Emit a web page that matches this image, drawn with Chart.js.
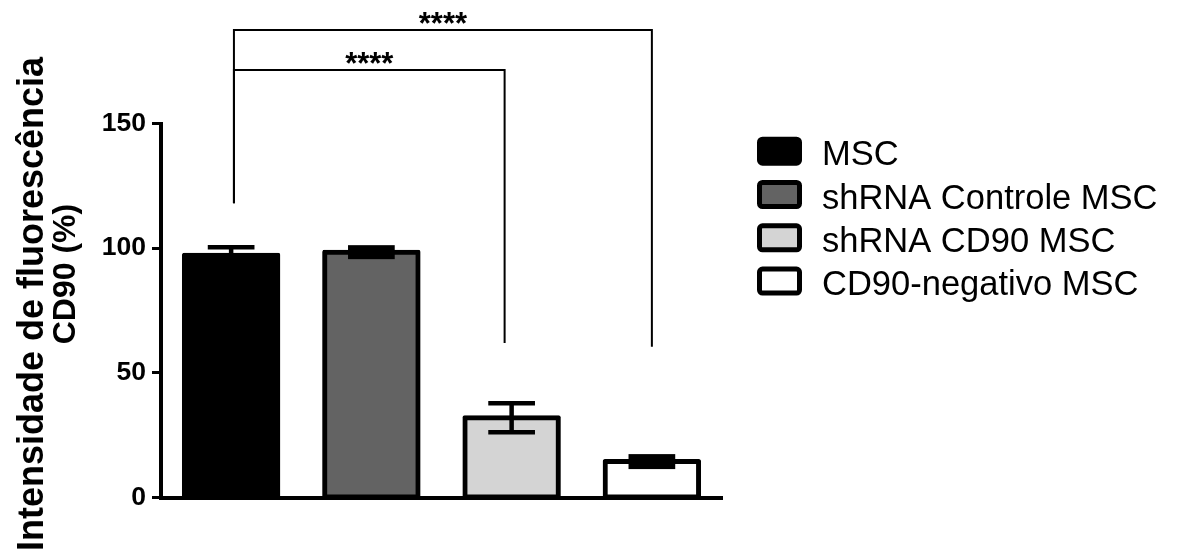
<!DOCTYPE html>
<html>
<head>
<meta charset="utf-8">
<title>Intensidade de fluorescência CD90</title>
<script src="https://cdn.jsdelivr.net/npm/chart.js@4.4.1/dist/chart.umd.min.js"></script>
<style>
  html, body { margin: 0; padding: 0; background: #ffffff; }
  #wrap { width: 1177px; height: 555px; }
</style>
</head>
<body>
<div id="wrap"><canvas id="chart" width="1177" height="555"></canvas></div>
<script>
// Groups, means and SEM of CD90 fluorescence intensity (%)
const groups = ['MSC', 'shRNA Controle MSC', 'shRNA CD90 MSC', 'CD90-negativo MSC'];
const means = [97.2, 98.4, 32.0, 14.4];
const sem = [3.2, 1.9, 5.8, 2.1];
const fills = ['#000000', '#636363', '#d4d4d4', '#ffffff'];
const yTicks = [0, 50, 100, 150];
const axisTitle = ['Intensidade de fluorescência', 'CD90 (%)'];

// Significance comparisons between groups (indices into groups)
const comparisonPairs = [[0, 2], [0, 3]];
const comparisonLabels = ['****', '****'];

const FONT = '"Liberation Sans", Arial, Helvetica, sans-serif';
Chart.defaults.font.family = FONT;
Chart.defaults.color = '#000';

// Bracket geometry in axis units: height of the bar and the ends of the legs
const bracketStyle = [
  { fromShift: 0.02, toShift: -0.05, level: 171.5, leftLeg: 118, rightLeg: 62 },
  { fromShift: 0.02, toShift: 0.0, level: 187.5, leftLeg: 118, rightLeg: 60.5 }
];

// SEM whiskers; caps that nearly touch are drawn as one solid block
const errorBars = {
  id: 'errorBars',
  afterDatasetsDraw(chart) {
    const { ctx } = chart;
    const ys = chart.scales.y;
    const meta = chart.getDatasetMeta(0);
    const capWidth = 4.5;
    ctx.save();
    ctx.strokeStyle = '#000';
    ctx.fillStyle = '#000';
    ctx.lineWidth = capWidth;
    ctx.lineCap = 'butt';
    meta.data.forEach((bar, i) => {
      const x = bar.x;
      const hi = ys.getPixelForValue(means[i] + sem[i]);
      const lo = ys.getPixelForValue(means[i] - sem[i]);
      const half = bar.width * 0.25;
      if (lo - hi < 3 * capWidth) {
        ctx.fillRect(x - half, hi - capWidth / 2, 2 * half, lo - hi + capWidth);
        return;
      }
      ctx.beginPath();
      ctx.moveTo(x, hi); ctx.lineTo(x, lo);
      ctx.moveTo(x - half, hi); ctx.lineTo(x + half, hi);
      ctx.moveTo(x - half, lo); ctx.lineTo(x + half, lo);
      ctx.stroke();
    });
    ctx.restore();
  }
};

const brackets = {
  id: 'brackets',
  afterDraw(chart) {
    const { ctx } = chart;
    const xs = chart.scales.x, ys = chart.scales.y;
    ctx.save();
    ctx.strokeStyle = '#000';
    ctx.lineWidth = 2;
    comparisonPairs.forEach(([a, b], k) => {
      const st = bracketStyle[k];
      const xa = xs.getPixelForValue(a + st.fromShift);
      const xb = xs.getPixelForValue(b + st.toShift);
      const yTop = ys.getPixelForValue(st.level);
      ctx.beginPath();
      ctx.moveTo(xa, ys.getPixelForValue(st.leftLeg));
      ctx.lineTo(xa, yTop);
      ctx.lineTo(xb, yTop);
      ctx.lineTo(xb, ys.getPixelForValue(st.rightLeg));
      ctx.stroke();
      ctx.fillStyle = '#000';
      ctx.font = 'bold 31px ' + FONT;
      ctx.textAlign = 'center';
      ctx.textBaseline = 'alphabetic';
      ctx.fillText(comparisonLabels[k], (xa + xb) / 2, yTop + 4);
    });
    ctx.restore();
  }
};

const yTitle = {
  id: 'yTitle',
  afterDraw(chart) {
    const { ctx } = chart;
    const lines = [
      { text: axisTitle[0], x: 43, y: 304, size: 36 },
      { text: axisTitle[1], x: 75, y: 274, size: 32 }
    ];
    lines.forEach(l => {
      ctx.save();
      ctx.fillStyle = '#000';
      ctx.textAlign = 'center';
      ctx.textBaseline = 'alphabetic';
      ctx.translate(l.x, l.y);
      ctx.rotate(-Math.PI / 2);
      ctx.font = 'bold ' + l.size + 'px ' + FONT;
      ctx.fillText(l.text, 0, 0);
      ctx.restore();
    });
  }
};

const groupLegend = {
  id: 'groupLegend',
  afterDraw(chart) {
    const { ctx, chartArea } = chart;
    const boxLeft = chartArea.right + 37.5;
    ctx.save();
    groups.forEach((g, i) => {
      const top = 139.2 + i * 43.3;
      ctx.beginPath();
      ctx.roundRect(boxLeft, top, 40, 24, 3);
      ctx.fillStyle = fills[i];
      ctx.fill();
      ctx.lineWidth = 5;
      ctx.strokeStyle = '#000';
      ctx.stroke();
      ctx.fillStyle = '#000';
      ctx.font = '34.5px ' + FONT;
      ctx.textAlign = 'left';
      ctx.textBaseline = 'alphabetic';
      ctx.fillText(g, boxLeft + 62.5, top + 26);
    });
    ctx.restore();
  }
};

new Chart(document.getElementById('chart'), {
  type: 'bar',
  data: {
    labels: groups,
    datasets: [{
      data: means,
      backgroundColor: fills,
      borderColor: '#000',
      borderWidth: 5,
      borderSkipped: false,
      borderRadius: 2,
      inflateAmount: 2.5,
      barPercentage: 0.666,
      categoryPercentage: 1,
      clip: false
    }]
  },
  options: {
    responsive: false,
    animation: false,
    events: [],
    layout: { padding: { left: 0, top: 123.5, right: 455, bottom: 57.5 } },
    plugins: { legend: { display: false }, tooltip: { enabled: false } },
    scales: {
      x: {
        grid: { display: false },
        ticks: { display: false },
        border: { display: true, color: '#000', width: 4, z: 1 },
        afterFit(s) { s.height = 0; }
      },
      y: {
        min: 0,
        max: 150,
        afterBuildTicks(s) { s.ticks = yTicks.map(v => ({ value: v })); },
        ticks: { color: '#000', padding: 6, font: { size: 26.5, weight: 'bold' } },
        grid: { display: true, drawOnChartArea: false, drawTicks: true, tickLength: 9, tickWidth: 3, tickColor: '#000' },
        border: { display: true, color: '#000', width: 4, z: 1 },
        afterFit(s) { s.width = 161; }
      }
    }
  },
  plugins: [errorBars, brackets, yTitle, groupLegend]
});
</script>
</body>
</html>
